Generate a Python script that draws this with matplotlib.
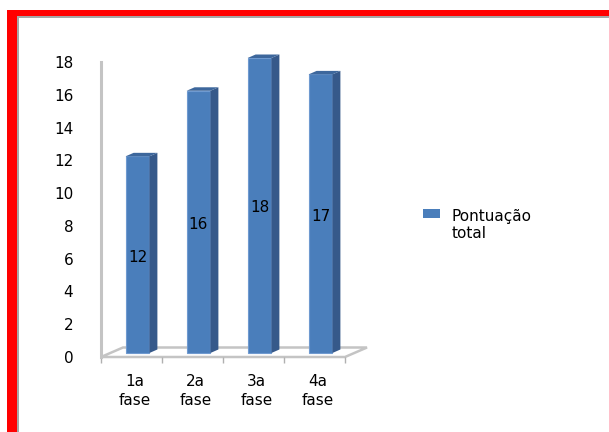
import matplotlib.pyplot as plt
from matplotlib.patches import Polygon, Rectangle, Patch

categories = ["1a\nfase", "2a\nfase", "3a\nfase", "4a\nfase"]
values = [12, 16, 18, 17]
series_name = "Pontuação\ntotal"
y_ticks = [0, 2, 4, 6, 8, 10, 12, 14, 16, 18]

W, H = 609, 432
fig = plt.figure(figsize=(W / 100, H / 100), dpi=100)
fig.patch.set_facecolor("white")


def fx(px):
    return px / W


def fy(py):
    return 1 - py / H


# red frame (left and top), with thin grey inner line
fig.patches.append(Rectangle((fx(7), 0), fx(10), fy(10), transform=fig.transFigure,
                             facecolor="#ff0000", edgecolor="none"))
fig.patches.append(Rectangle((fx(7), fy(16)), 1, fy(10) - fy(16), transform=fig.transFigure,
                             facecolor="#ff0000", edgecolor="none"))
fig.patches.append(Rectangle((fx(17), 0), fx(2), fy(16), transform=fig.transFigure,
                             facecolor="#a6a6a6", edgecolor="none"))
fig.patches.append(Rectangle((fx(17), fy(17.5)), 1, fy(16) - fy(17.5), transform=fig.transFigure,
                             facecolor="#a6a6a6", edgecolor="none"))

# front plane of the 3D plot area
left, right, top, bottom = 101, 345, 62, 357
ax = fig.add_axes([fx(left), fy(bottom), fx(right - left), fy(top) - fy(bottom)])
ax.set_xlim(-0.5, len(values) - 0.5)
ax.set_ylim(0, 18)
ax.patch.set_visible(False)

sx = (right - left) / len(values)   # pixels per x unit
sy = (bottom - top) / 18.0          # pixels per y unit

# floor
fdx, fdy = 22 / sx, 9.5 / sy
floor = Polygon([(-0.5, 0), (len(values) - 0.5, 0), (len(values) - 0.5 + fdx, fdy), (-0.5 + fdx, fdy)],
                closed=True, facecolor="white", edgecolor="#c4c4c4", lw=1.8, clip_on=False, zorder=1)
ax.add_patch(floor)

# bars (front face in the middle of the depth)
ox, oy = 6 / sx, 4 / sy
bdx, bdy = 8 / sx, 3.5 / sy
width = 0.39
xs = list(range(len(values)))
bars = ax.bar([x + ox for x in xs], values, width=width, bottom=oy, color="#4a7ebb",
              edgecolor="#6f9ad0", linewidth=0.8, clip_on=False, zorder=3, label=series_name)
for x, v in zip(xs, values):
    x0 = x + ox - width / 2
    x1 = x + ox + width / 2
    side = Polygon([(x1, oy), (x1 + bdx, oy + bdy), (x1 + bdx, v + oy + bdy), (x1, v + oy)],
                   closed=True, facecolor="#36598a", edgecolor="none", clip_on=False, zorder=3)
    topf = Polygon([(x0, v + oy), (x1, v + oy), (x1 + bdx, v + oy + bdy), (x0 + bdx, v + oy + bdy)],
                   closed=True, facecolor="#3d679c", edgecolor="none", clip_on=False, zorder=3)
    ax.add_patch(side)
    ax.add_patch(topf)
    ax.text(x + ox, v / 2 + oy - 2.5 / sy, str(v), ha="center", va="center", fontsize=11, zorder=4)

# axes styling
for s in ["top", "right", "bottom"]:
    ax.spines[s].set_visible(False)
ax.spines["left"].set_color("#c4c4c4")
ax.spines["left"].set_linewidth(2.2)
ax.spines["left"].set_zorder(5)
ax.set_yticks(y_ticks)
ax.tick_params(axis="y", length=0, pad=20, labelsize=11)
ax.set_xticks([x + 3 / sx for x in xs])
ax.set_xticklabels(categories, fontsize=11, linespacing=1.35)
ax.tick_params(axis="x", which="major", length=0, pad=12)
ax.set_xticks([x - 0.5 for x in xs] + [len(values) - 0.5], minor=True)
ax.tick_params(axis="x", which="minor", length=4, width=1, color="#b0b0b0")

leg = ax.legend(handles=[Patch(facecolor="#4a7ebb", edgecolor="none")], labels=[series_name],
                loc="upper left", bbox_to_anchor=(fx(423), fy(209)), bbox_transform=fig.transFigure,
                frameon=False, fontsize=11, handlelength=1.1, handleheight=0.55, handletextpad=0.75,
                borderpad=0, borderaxespad=0)
# handle sits next to the first line of the wrapped label
for row in leg._legend_handle_box.get_children():
    for entry in row.get_children():
        entry.align = "top"

fig.savefig("out.png", dpi=100)
